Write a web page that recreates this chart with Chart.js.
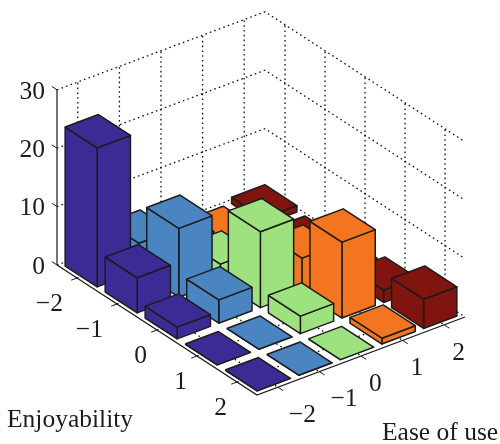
<!DOCTYPE html>
<html>
<head>
<meta charset="utf-8">
<style>html,body{margin:0;padding:0;background:#fff}canvas{display:block}</style>
<script src="https://cdn.jsdelivr.net/npm/chart.js@4/dist/chart.umd.min.js"></script>
</head>
<body>
<canvas id="c" width="500" height="444"></canvas>
<script>
// Data
const enjoyTicks = [-2, -1, 0, 1, 2];
const easeTicks = [-2, -1, 0, 1, 2];
const valueTicks = [0, 10, 20, 30];
const easeColors = ['#3A2C94', '#4A85C1', '#9DE27F', '#F3751F', '#7F150E'];
const enjoyMinus2 = [23.8, 4.8, 2, 0.1, 1.1];
const enjoyMinus1 = [6, 11.8, 3, 3, 0.2];
const enjoyZero = [2, 4, 13, 5.8, 1];
const enjoyPlus1 = [0, 0, 3, 13, 2.1];
const enjoyPlus2 = [0, 0, 0, 1, 5];
const rows = [enjoyMinus2, enjoyMinus1, enjoyZero, enjoyPlus1, enjoyPlus2];
const enjoyTitle = 'Enjoyability';
const easeTitle = 'Ease of use';

// Oblique projection of (enjoy, ease, value) to the two chart scales
const KX = 40 / 41.6, KU = 15.6 / 5.84, KE = 26 / 5.84;
const LO = -2.5, HI = 2.5, TOP = 30, HALF = 0.4;
const P = (e, u, z) => ({
  x: (u - LO) + (e - LO) * KX,
  y: z + (u - LO) * KU - (e - LO) * KE
});
const INK = '#1c1c1c';
const layers = [];
const stroke = (pts, width, dash, color) => layers.push({
  data: pts, showLine: true, pointRadius: 0, fill: false, clip: false,
  borderColor: color || INK, borderWidth: width, borderDash: dash || [], tension: 0
});
const face = (pts, color) => layers.push({
  data: [...pts, pts[0]], showLine: true, pointRadius: 0, tension: 0,
  fill: 'shape', backgroundColor: color, borderColor: INK, borderWidth: 1.5,
  borderJoinStyle: 'round', clip: false
});

// Dotted walls and floor
const DOT = [1.6, 3.2];
valueTicks.forEach(z => {
  stroke([P(LO, LO, z), P(LO, HI, z), P(HI, HI, z)], 1.3, DOT, '#111');
});
easeTicks.forEach(u => {
  stroke([P(LO, u, 0), P(LO, u, TOP)], 1.3, DOT, '#111');
  stroke([P(LO, u, 0), P(HI, u, 0)], 1.3, DOT, '#111');
});
enjoyTicks.forEach(e => {
  stroke([P(e, HI, 0), P(e, HI, TOP)], 1.3, DOT, '#111');
  stroke([P(e, LO, 0), P(e, HI, 0)], 1.3, DOT, '#111');
});

// Solid axes and their tick marks
stroke([P(LO, LO, 0), P(LO, LO, TOP)], 1.5, null, '#444');
stroke([P(LO, LO, 0), P(HI, LO, 0), P(HI, HI, 0)], 1.3);
valueTicks.forEach(z => stroke([P(LO, LO, z), P(LO - 0.13, LO, z)], 1));
enjoyTicks.forEach(e => stroke([P(e, LO, 0), P(e, LO - 0.14, 0)], 1));
easeTicks.forEach(u => stroke([P(HI, u, 0), P(HI + 0.13, u, 0)], 1));

// Bars, listed back to front
enjoyTicks.forEach((e, i) => {
  for (let j = easeTicks.length - 1; j >= 0; j--) {
    const u = easeTicks[j], v = rows[i][j], c = easeColors[j];
    const a = e - HALF, b = e + HALF, l = u - HALF, r = u + HALF;
    face([P(b, l, 0), P(b, r, 0), P(b, r, v), P(b, l, v)], c);
    face([P(a, l, 0), P(b, l, 0), P(b, l, v), P(a, l, v)], c);
    face([P(a, l, v), P(a, r, v), P(b, r, v), P(b, l, v)], c);
  }
});
// Chart.js paints the first dataset last, so hand them over reversed
const datasets = layers.slice().reverse();

const FONT = '25.5px "Liberation Serif"';
const fmt = t => t < 0 ? '\u2212' + Math.abs(t) : String(t);
const labels3d = {
  id: 'labels3d',
  afterDraw(chart) {
    const { ctx, scales: { x, y } } = chart;
    const at = p => [x.getPixelForValue(p.x), y.getPixelForValue(p.y)];
    ctx.save();
    ctx.font = FONT;
    ctx.fillStyle = INK;
    ctx.textBaseline = 'middle';
    ctx.textAlign = 'right';
    valueTicks.forEach(z => {
      const [px, py] = at(P(LO, LO, z));
      ctx.fillText(fmt(z), px - 12, py + 2);
    });
    enjoyTicks.forEach(e => {
      const [px, py] = at(P(e, LO, 0));
      ctx.fillText(fmt(e), px - (e < 0 ? 14 : 10), py + 26);
    });
    ctx.textAlign = 'left';
    easeTicks.forEach(u => {
      const [px, py] = at(P(HI, u, 0));
      ctx.fillText(fmt(u), px + (u < 0 ? 11 : 8), py + 28);
    });
    ctx.textBaseline = 'alphabetic';
    ctx.fillText(enjoyTitle, 7, 427);
    ctx.fillText(easeTitle, 382, 440);
    ctx.restore();
  }
};

new Chart(document.getElementById('c'), {
  type: 'scatter',
  data: { datasets },
  plugins: [labels3d],
  options: {
    responsive: false,
    animation: false,
    events: [],
    layout: { padding: 0, autoPadding: false },
    plugins: { legend: { display: false }, tooltip: { enabled: false }, title: { display: false } },
    scales: {
      x: { type: 'linear', display: false, bounds: 'data', min: -57 / 41.6, max: 443 / 41.6 },
      y: { type: 'linear', display: false, bounds: 'data', min: (265 - 444) / 5.84, max: 265 / 5.84 }
    }
  }
});
</script>
</body>
</html>
